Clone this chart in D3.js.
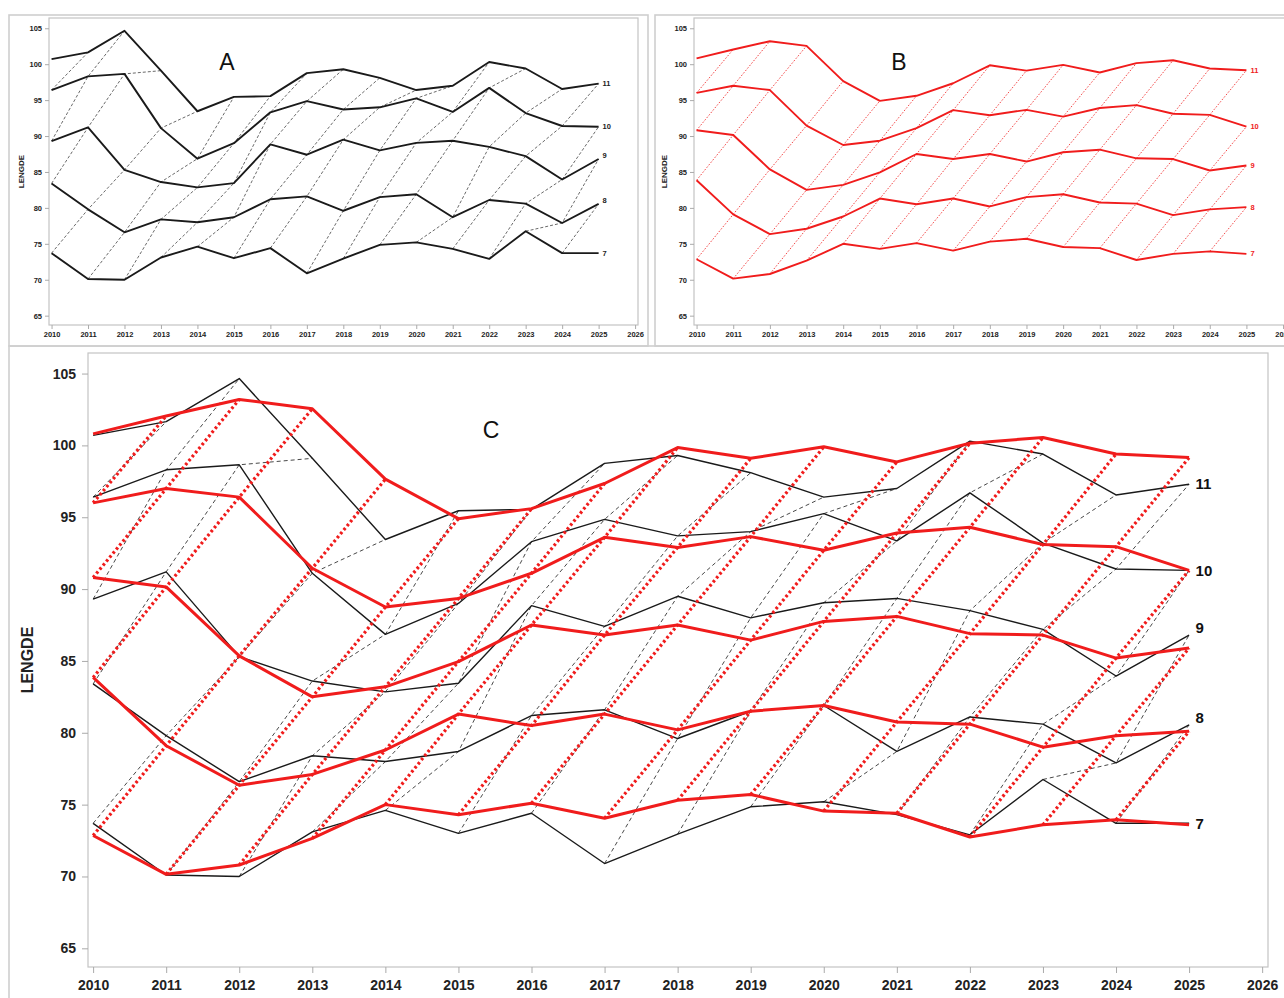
<!DOCTYPE html>
<html>
<head>
<meta charset="utf-8">
<script src="https://cdn.jsdelivr.net/npm/d3@7"></script>
<style>
  body { margin: 0; background: #fff; }
  svg { display: block; }
</style>
</head>
<body>
<svg id="chart" width="1284" height="998"></svg>
<script>
// ---- data -------------------------------------------------------------
const years = [2010, 2011, 2012, 2013, 2014, 2015, 2016, 2017,
               2018, 2019, 2020, 2021, 2022, 2023, 2024, 2025];
const xTicks = [2010, 2011, 2012, 2013, 2014, 2015, 2016, 2017, 2018,
                2019, 2020, 2021, 2022, 2023, 2024, 2025, 2026];
const yTicks = [65, 70, 75, 80, 85, 90, 95, 100, 105];
const ages = ["7", "8", "9", "10", "11"];

// observed LENGDE by age (black)
const obs7  = [73.7, 70.1, 70.0, 73.1, 74.6, 73.0, 74.4, 70.9, 72.95, 74.85, 75.2, 74.3, 72.9, 76.75, 73.7, 73.7];
const obs8  = [83.4, 79.8, 76.6, 78.4, 78.0, 78.7, 81.2, 81.6, 79.6, 81.5, 81.9, 78.7, 81.1, 80.6, 77.9, 80.55];
const obs9  = [89.3, 91.2, 85.3, 83.6, 82.85, 83.45, 88.85, 87.4, 89.5, 88.0, 89.05, 89.35, 88.5, 87.2, 83.95, 86.8];
const obs10 = [96.4, 98.3, 98.65, 91.1, 86.85, 89.0, 93.3, 94.85, 93.7, 94.0, 95.25, 93.35, 96.7, 93.2, 91.4, 91.3];
const obs11 = [100.7, 101.65, 104.65, 99.1, 93.45, 95.45, 95.55, 98.75, 99.3, 98.1, 96.4, 97.0, 100.3, 99.4, 96.55, 97.3];

// smoothed LENGDE by age (red)
const fit7  = [72.85, 70.15, 70.8, 72.65, 75.0, 74.3, 75.1, 74.05, 75.3, 75.7, 74.55, 74.4, 72.75, 73.6, 73.95, 73.6];
const fit8  = [83.85, 79.1, 76.35, 77.1, 78.8, 81.3, 80.5, 81.3, 80.2, 81.5, 81.9, 80.75, 80.6, 79.0, 79.8, 80.1];
const fit9  = [90.8, 90.15, 85.35, 82.5, 83.2, 84.95, 87.5, 86.8, 87.5, 86.45, 87.75, 88.1, 86.9, 86.8, 85.2, 85.9];
const fit10 = [96.0, 97.0, 96.4, 91.45, 88.75, 89.35, 91.1, 93.6, 92.9, 93.65, 92.7, 93.9, 94.3, 93.1, 92.95, 91.3];
const fit11 = [100.8, 102.05, 103.2, 102.55, 97.65, 94.9, 95.6, 97.35, 99.85, 99.1, 99.9, 98.85, 100.15, 100.55, 99.4, 99.15];

const observed = [obs7, obs8, obs9, obs10, obs11];
const smoothed = [fit7, fit8, fit9, fit10, fit11];

// ---- drawing helpers ---------------------------------------------------
const svg = d3.select("#chart");
const FONT = "'Liberation Sans', Arial, Helvetica, sans-serif";
const xDomain = [2009.93, 2026.08];
const yDomain = [63.7, 106.43];

// one polyline per cohort: age i in year j -> age i+1 in year j+1
function cohorts(series) {
  const out = [];
  for (let c = -(series.length - 1); c < years.length; c++) {
    const pts = [];
    series.forEach((s, i) => {
      const j = c + i;
      if (j >= 0 && j < years.length) pts.push([years[j], s[j]]);
    });
    if (pts.length > 1) out.push(pts);
  }
  return out;
}

function toPoints(s) { return s.map((v, j) => [years[j], v]); }

function drawPanel(p) {
  const g = svg.append("g");
  const x = d3.scaleLinear().domain(xDomain).range([p.left, p.right]);
  const y = d3.scaleLinear().domain(yDomain).range([p.bottom, p.top]);
  const line = d3.line().x(d => x(d[0])).y(d => y(d[1]));

  // outer panel border
  g.append("rect")
    .attr("x", p.box[0]).attr("y", p.box[1])
    .attr("width", p.box[2] - p.box[0]).attr("height", p.box[3] - p.box[1])
    .attr("fill", "none").attr("stroke", "#cfcfcf").attr("stroke-width", 1.6);

  // plot frame
  g.append("rect")
    .attr("x", p.left).attr("y", p.top)
    .attr("width", p.right - p.left).attr("height", p.bottom - p.top)
    .attr("fill", "#fff").attr("stroke", "#c4c4c4").attr("stroke-width", 1.2);

  // axes
  const xAxis = g.append("g")
    .attr("transform", `translate(0,${p.bottom})`)
    .call(d3.axisBottom(x).tickValues(xTicks).tickFormat(d3.format("d"))
      .tickSizeInner(p.tick).tickSizeOuter(0).tickPadding(p.xPad));
  const yAxis = g.append("g")
    .attr("transform", `translate(${p.left},0)`)
    .call(d3.axisLeft(y).tickValues(yTicks).tickFormat(d3.format("d"))
      .tickSizeInner(p.tick).tickSizeOuter(0).tickPadding(p.yPad));
  [xAxis, yAxis].forEach(a => {
    a.select(".domain").remove();
    a.selectAll(".tick line").attr("stroke", "#aaa");
    a.selectAll(".tick text")
      .attr("font-family", FONT).attr("font-size", p.tickFont)
      .attr("font-weight", "bold").attr("fill", "#222");
  });

  // y-axis title
  g.append("text")
    .attr("transform", `translate(${p.titleX},${(p.top + p.bottom) / 2}) rotate(-90)`)
    .attr("text-anchor", "middle").attr("dominant-baseline", "central")
    .attr("font-family", FONT).attr("font-size", p.titleFont).attr("font-weight", "bold")
    .attr("fill", "#222").text("LENGDE");

  // panel letter
  g.append("text")
    .attr("x", p.letter[0]).attr("y", p.letter[1])
    .attr("text-anchor", "middle").attr("dominant-baseline", "central")
    .attr("font-family", FONT).attr("font-size", p.letterFont)
    .attr("fill", "#111").text(p.name);

  // series layers
  p.layers.forEach(L => {
    g.append("g").selectAll("path")
      .data(L.cohort ? cohorts(L.data) : L.data.map(toPoints))
      .join("path")
      .attr("d", line)
      .attr("fill", "none")
      .attr("stroke", L.color)
      .attr("stroke-width", L.width)
      .attr("stroke-dasharray", L.dash || null)
      .attr("stroke-linejoin", "round");
  });

  // age labels at the end of each curve
  const lab = p.labels;
  g.append("g").selectAll("text")
    .data(lab.data)
    .join("text")
    .attr("x", x(years[years.length - 1]) + lab.dx)
    .attr("y", s => y(s[s.length - 1]))
    .attr("dy", s => (s[s.length - 1] - s[s.length - 2] > 2 ? "-0.12em" : "0.35em"))
    .attr("font-family", FONT).attr("font-size", lab.font).attr("font-weight", "bold")
    .attr("fill", lab.color)
    .text((s, i) => ages[i]);
}

// ---- panels -------------------------------------------------------------
drawPanel({
  name: "A", box: [9, 15, 648, 346],
  left: 49, top: 18, right: 638, bottom: 325,
  tick: 4, xPad: 2.5, yPad: 3, tickFont: 7.5, titleFont: 8, titleX: 21,
  letter: [227, 62], letterFont: 23,
  layers: [
    { data: observed, cohort: true, color: "#444", width: 0.8, dash: "3,2" },
    { data: observed, color: "#1a1a1a", width: 1.9 }
  ],
  labels: { data: observed, dx: 4, font: 7.5, color: "#222" }
});

drawPanel({
  name: "B", box: [655, 15, 1300, 346],
  left: 694, top: 18, right: 1286, bottom: 325,
  tick: 4, xPad: 2.5, yPad: 3, tickFont: 7.5, titleFont: 8, titleX: 664,
  letter: [899, 62], letterFont: 23,
  layers: [
    { data: smoothed, cohort: true, color: "#f01c1c", width: 0.8, dash: "1.6,1.6" },
    { data: smoothed, color: "#f01c1c", width: 1.9 }
  ],
  labels: { data: smoothed, dx: 4, font: 7.5, color: "#f01c1c" }
});

drawPanel({
  name: "C", box: [9, 346, 1300, 1010],
  left: 88, top: 353, right: 1268, bottom: 967,
  tick: 6, xPad: 7, yPad: 6, tickFont: 14, titleFont: 16, titleX: 27,
  letter: [491, 430], letterFont: 23,
  layers: [
    { data: observed, cohort: true, color: "#333", width: 0.9, dash: "4,3" },
    { data: observed, color: "#1a1a1a", width: 1.4 },
    { data: smoothed, color: "#f01c1c", width: 3 },
    { data: smoothed, cohort: true, color: "#f01c1c", width: 3.2, dash: "2.6,2.6" }
  ],
  labels: { data: observed, dx: 6.5, font: 15, color: "#111" }
});
</script>
</body>
</html>
